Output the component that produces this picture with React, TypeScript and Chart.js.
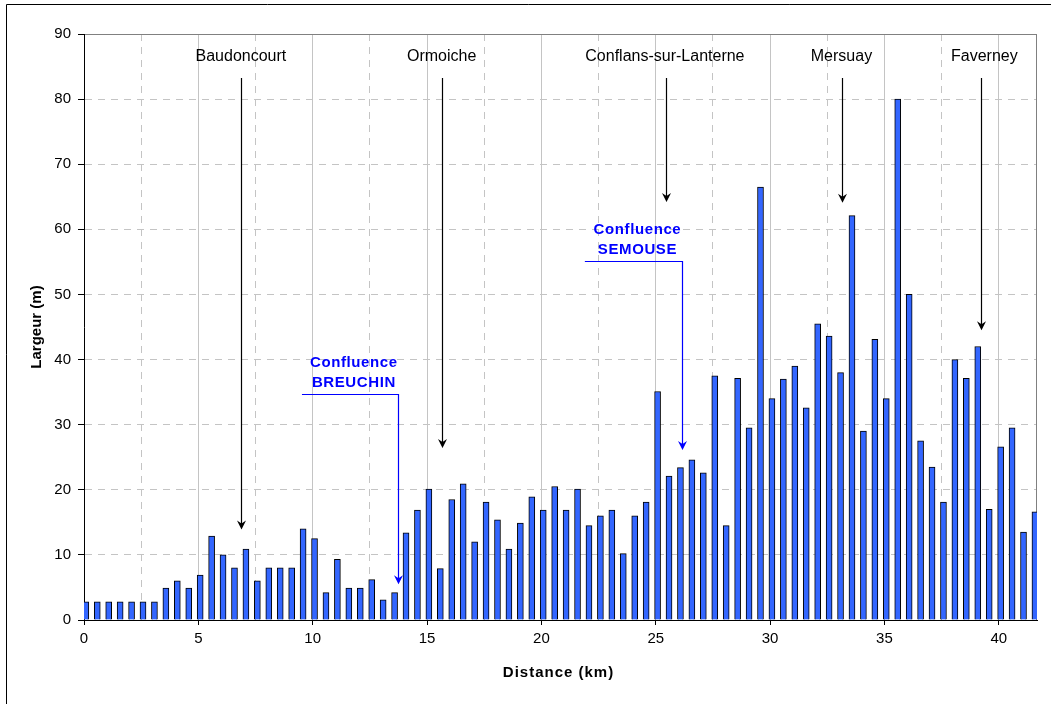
import React, { useEffect, useRef } from 'react';
import { Chart, registerables } from 'chart.js';

Chart.register(...registerables);

// ---- Data ----
const distanceKm = [
  0.08, 0.58, 1.08, 1.58, 2.08, 2.58, 3.08, 3.58, 4.08, 4.58,
  5.08, 5.58, 6.08, 6.58, 7.08, 7.58, 8.08, 8.58, 9.08, 9.58,
  10.08, 10.58, 11.08, 11.58, 12.08, 12.58, 13.08, 13.58, 14.08, 14.58,
  15.08, 15.58, 16.08, 16.58, 17.08, 17.58, 18.08, 18.58, 19.08, 19.58,
  20.08, 20.58, 21.08, 21.58, 22.08, 22.58, 23.08, 23.58, 24.08, 24.58,
  25.08, 25.58, 26.08, 26.58, 27.08, 27.58, 28.08, 28.58, 29.08, 29.58,
  30.08, 30.58, 31.08, 31.58, 32.08, 32.58, 33.08, 33.58, 34.08, 34.58,
  35.08, 35.58, 36.08, 36.58, 37.08, 37.58, 38.08, 38.58, 39.08, 39.58,
  40.08, 40.58, 41.08, 41.58,
];

const largeurM = [
  2.8, 2.8, 2.8, 2.8, 2.8, 2.8, 2.8, 4.9, 6.0, 4.9,
  6.9, 12.9, 10.0, 8.0, 10.9, 6.0, 8.0, 8.0, 8.0, 14.0,
  12.5, 4.2, 9.3, 4.9, 4.9, 6.2, 3.1, 4.2, 13.4, 16.9,
  20.1, 7.9, 18.5, 20.9, 12.0, 18.1, 15.4, 10.9, 14.9, 18.9,
  16.9, 20.5, 16.9, 20.1, 14.5, 16.0, 16.9, 10.2, 16.0, 18.1,
  35.1, 22.1, 23.4, 24.6, 22.6, 37.5, 14.5, 37.1, 29.5, 66.5,
  34.0, 37.0, 39.0, 32.6, 45.5, 43.6, 38.0, 62.1, 29.0, 43.1,
  34.0, 80.0, 50.0, 27.5, 23.5, 18.1, 40.0, 37.1, 42.0, 17.0,
  26.6, 29.5, 13.5, 16.6,
];

const xTickValues = [0, 2.5, 5, 7.5, 10, 12.5, 15, 17.5, 20, 22.5, 25, 27.5, 30, 32.5, 35, 37.5, 40];

// Town annotations (km along the river, tip of arrow in metres)
const townNames = ['Baudoncourt', 'Ormoiche', 'Conflans-sur-Lanterne', 'Mersuay', 'Faverney'];
const townArrowKm = [6.86, 15.64, 25.45, 33.14, 39.24];
const townLabelKm = [6.86, 15.64, 25.4, 33.12, 39.37];
const townArrowTip = [13.9, 26.4, 64.2, 64.1, 44.5];

// Confluence annotations
const confluenceNames = ['BREUCHIN', 'SEMOUSE'];
const confluenceArrowKm = [13.74, 26.15];
const confluenceStartKm = [9.53, 21.9];
const confluenceLabelKm = [11.8, 24.2];
const confluenceElbow = [34.65, 55.2];
const confluenceTip = [5.5, 26.1];

const FONT = '"Liberation Sans", Arial, Helvetica, sans-serif';

function arrowHead(ctx: CanvasRenderingContext2D, x: number, y: number) {
  ctx.beginPath();
  ctx.moveTo(x, y);
  ctx.lineTo(x - 4.5, y - 9);
  ctx.lineTo(x, y - 6);
  ctx.lineTo(x + 4.5, y - 9);
  ctx.closePath();
  ctx.fill();
}

const decorPlugin = {
  id: 'decor',
  beforeDraw(chart: any) {
    const { ctx, width, height } = chart;
    ctx.save();
    ctx.fillStyle = '#ffffff';
    ctx.fillRect(0, 0, width, height);
    ctx.strokeStyle = '#000';
    ctx.lineWidth = 1;
    ctx.beginPath();
    ctx.moveTo(6.5, height);
    ctx.lineTo(6.5, 4.5);
    ctx.lineTo(width, 4.5);
    ctx.stroke();
    ctx.restore();
  },
  beforeDatasetsDraw(chart: any) {
    const { ctx, chartArea } = chart;
    ctx.save();
    ctx.strokeStyle = '#808080';
    ctx.lineWidth = 1;
    ctx.beginPath();
    ctx.moveTo(Math.round(chartArea.right) - 0.5, chartArea.top);
    ctx.lineTo(Math.round(chartArea.right) - 0.5, chartArea.bottom);
    ctx.stroke();
    ctx.restore();
  },
  afterDatasetsDraw(chart: any) {
    const { ctx, scales, chartArea } = chart;
    const x = scales.x;
    const y = scales.y;
    ctx.save();

    // Towns
    ctx.fillStyle = '#000';
    ctx.strokeStyle = '#000';
    ctx.lineWidth = 1.2;
    ctx.font = `16px ${FONT}`;
    ctx.textAlign = 'center';
    ctx.textBaseline = 'middle';
    townNames.forEach((name, i) => {
      const px = Math.round(x.getPixelForValue(townArrowKm[i])) + 0.5;
      const lx = x.getPixelForValue(townLabelKm[i]);
      ctx.fillText(name, lx, chartArea.top + 23);
      const tip = y.getPixelForValue(townArrowTip[i]);
      ctx.beginPath();
      ctx.moveTo(px, chartArea.top + 44);
      ctx.lineTo(px, tip - 5);
      ctx.stroke();
      arrowHead(ctx, px, tip);
    });

    // Confluences
    const blue = '#0000ff';
    ctx.fillStyle = blue;
    ctx.strokeStyle = blue;
    ctx.lineWidth = 1.2;
    ctx.font = `bold 15px ${FONT}`;
    confluenceNames.forEach((name, i) => {
      const ax = Math.round(x.getPixelForValue(confluenceArrowKm[i])) + 0.5;
      const sx = x.getPixelForValue(confluenceStartKm[i]);
      const ey = Math.round(y.getPixelForValue(confluenceElbow[i])) + 0.5;
      const tip = y.getPixelForValue(confluenceTip[i]);
      const lx = x.getPixelForValue(confluenceLabelKm[i]);
      (ctx as any).letterSpacing = '0.6px';
      ctx.fillText('Confluence', lx, ey - 32);
      ctx.fillText(name, lx, ey - 12);
      (ctx as any).letterSpacing = '0px';
      ctx.beginPath();
      ctx.moveTo(sx, ey);
      ctx.lineTo(ax, ey);
      ctx.lineTo(ax, tip - 5);
      ctx.stroke();
      arrowHead(ctx, ax, tip);
    });
    ctx.restore();
  },
  afterDraw(chart: any) {
    const { ctx, chartArea } = chart;
    ctx.save();
    ctx.fillStyle = '#000';
    ctx.font = `bold 15px ${FONT}`;
    ctx.textAlign = 'center';
    ctx.textBaseline = 'middle';
    (ctx as any).letterSpacing = '1px';
    ctx.fillText('Distance (km)', (chartArea.left + chartArea.right) / 2 - 2, 673);
    (ctx as any).letterSpacing = '0px';
    ctx.translate(37, (chartArea.top + chartArea.bottom) / 2);
    ctx.rotate(-Math.PI / 2);
    ctx.fillText('Largeur (m)', 0, 0);
    ctx.restore();
  },
};

export default function App() {
  const canvasRef = useRef<HTMLCanvasElement | null>(null);

  useEffect(() => {
    const canvas = canvasRef.current;
    if (!canvas) return;
    const points = distanceKm.map((d, i) => ({ x: d, y: largeurM[i] }));
    const chart = new Chart(canvas, {
      type: 'bar',
      data: {
        datasets: [
          {
            label: 'Largeur (m)',
            data: points as any,
            backgroundColor: '#3366ff',
            borderColor: '#000000',
            borderWidth: 1,
            barThickness: 6,
          },
        ],
      },
      options: {
        animation: false,
        responsive: false,
        maintainAspectRatio: false,
        devicePixelRatio: 1,
        layout: { padding: { top: 34, right: 14, left: 0, bottom: 0 } },
        plugins: {
          legend: { display: false },
          tooltip: { enabled: false },
          title: { display: false },
        },
        scales: {
          x: {
            type: 'linear',
            min: 0,
            max: 41.67,
            offset: false,
            afterFit: (s: any) => {
              s.height = 84;
            },
            afterBuildTicks: (s: any) => {
              s.ticks = xTickValues.map((v) => ({ value: v }));
            },
            ticks: {
              autoSkip: false,
              maxRotation: 0,
              minRotation: 0,
              padding: 5,
              color: '#000',
              font: { family: FONT, size: 15 },
              callback: (v: any) => (Number(v) % 5 === 0 ? String(v) : ''),
            },
            grid: {
              offset: false,
              lineWidth: 1,
              tickLength: 5,
              color: '#c4c4c4',
              tickColor: (c: any) =>
                c.tick && c.tick.value % 5 !== 0 ? 'rgba(0,0,0,0)' : '#000',
            },
            border: {
              display: true,
              color: '#000',
              width: 1,
              dash: (c: any) => (c.tick && c.tick.value % 5 !== 0 ? [7, 6] : []),
            },
          },
          y: {
            min: 0,
            max: 90,
            afterFit: (s: any) => {
              s.width = 84;
            },
            ticks: {
              stepSize: 10,
              padding: 7,
              color: '#000',
              font: { family: FONT, size: 15 },
            },
            grid: {
              lineWidth: 1,
              tickLength: 6,
              tickColor: '#000',
              color: (c: any) => (c.tick && c.tick.value === 90 ? '#808080' : '#c4c4c4'),
            },
            border: {
              display: true,
              color: '#000',
              width: 1,
              dash: (c: any) =>
                c.tick && c.tick.value !== 90 && c.tick.value !== 0 ? [7, 6] : [],
            },
          },
        },
      } as any,
      plugins: [decorPlugin],
    });
    return () => chart.destroy();
  }, []);

  return (
    <div
      style={{
        position: 'fixed',
        left: 0,
        top: 0,
        width: 1051,
        height: 704,
        overflow: 'hidden',
        background: '#fff',
      }}
    >
      <canvas
        ref={canvasRef}
        width={1051}
        height={704}
        style={{ display: 'block', width: 1051, height: 704 }}
      />
    </div>
  );
}
